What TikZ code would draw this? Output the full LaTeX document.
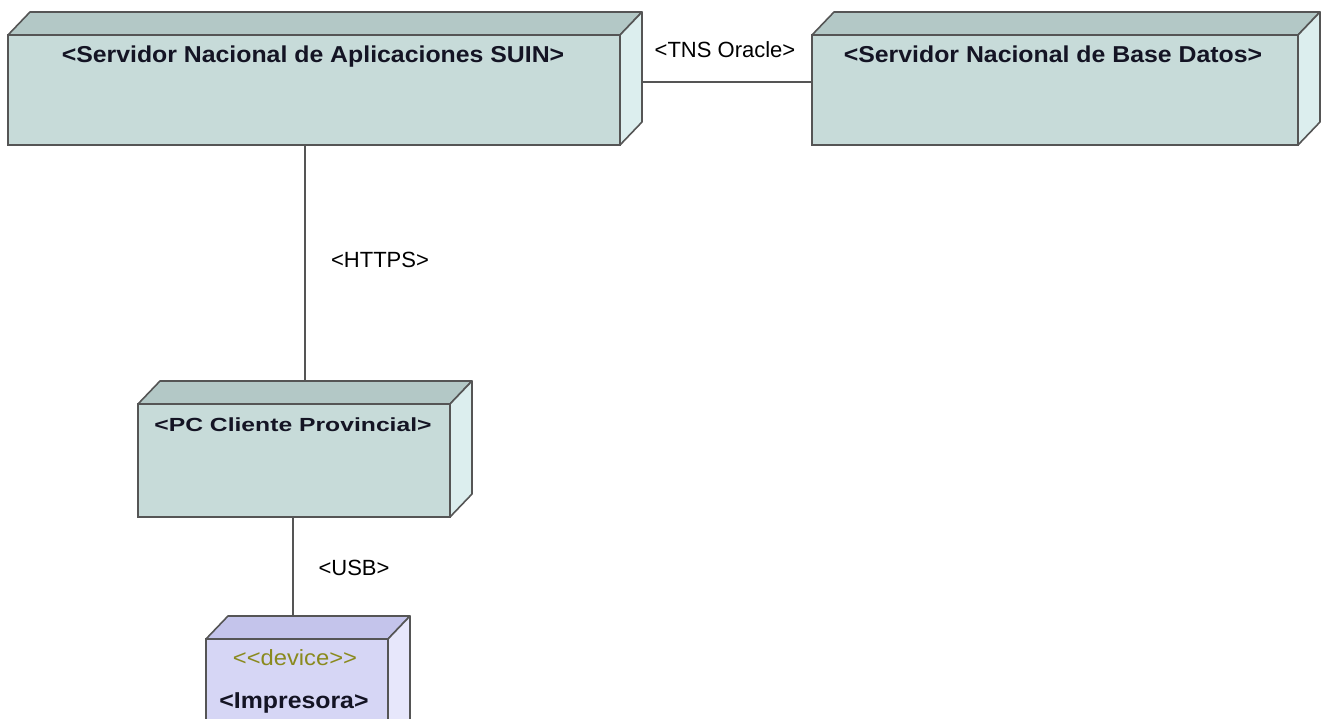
\documentclass[tikz,border=0pt]{standalone}
\usepackage{fontspec}
\setmainfont{Liberation Sans}
\newfontfamily\titlefont[FakeStretch=1.08]{Liberation Sans}
\newfontfamily\widefont[FakeStretch=1.3]{Liberation Sans}
\usetikzlibrary{calc}
\definecolor{edgec}{HTML}{555555}
\definecolor{frontc}{HTML}{C7DBD9}
\definecolor{topc}{HTML}{B3C8C6}
\definecolor{sidec}{HTML}{DCEEEE}
\definecolor{dfrontc}{HTML}{D6D6F5}
\definecolor{dtopc}{HTML}{C4C4EB}
\definecolor{dsidec}{HTML}{E7E7FB}
\definecolor{olivec}{HTML}{8A8A1E}
\definecolor{titlec}{HTML}{141424}
\pgfdeclarelayer{bg}
\pgfdeclarelayer{conn}
\pgfsetlayers{bg,conn,main}
\tikzset{
  box/.style={draw=edgec, fill=frontc, line width=1.6pt, inner sep=0pt, outer sep=0pt, anchor=north west},
  dbox/.style={box, fill=dfrontc},
  topface/.style={draw=edgec, fill=topc, line width=1.6pt, line join=round},
  sideface/.style={draw=edgec, fill=sidec, line width=1.6pt, line join=round},
  dtopface/.style={topface, fill=dtopc},
  dsideface/.style={sideface, fill=dsidec},
  title/.style={font=\titlefont\bfseries\fontsize{23}{26}\selectfont, text=titlec, inner sep=0pt, anchor=base},
  widetitle/.style={title, font=\widefont\bfseries\fontsize{19}{22}\selectfont},
  lbl/.style={font=\fontsize{22}{25}\selectfont, text=black, inner sep=0pt, anchor=base},
  stereo/.style={font=\titlefont\fontsize{22}{25}\selectfont, text=olivec, inner sep=0pt, anchor=base},
  link/.style={draw=edgec, line width=1.5pt}
}
\begin{document}
\begin{tikzpicture}[x=1pt,y=-1pt]
\begin{pgfonlayer}{bg}
\fill[white] (0,0) rectangle (1324,719);
\end{pgfonlayer}
\clip (0,0) rectangle (1324,719);
% front faces
\node[box, minimum width=612pt, minimum height=110pt] (srv) at (8,35) {};
\node[box, minimum width=486pt, minimum height=110pt] (db) at (812,35) {};
\node[box, minimum width=312pt, minimum height=113pt] (pc) at (138,404) {};
\node[dbox, minimum width=182pt, minimum height=140pt] (imp) at (206,639) {};
% 3D faces
\foreach \n/\t/\s in {srv/topface/sideface, db/topface/sideface, pc/topface/sideface, imp/dtopface/dsideface}{
  \draw[\t] (\n.north west) -- ++(22,-23) -- ($(\n.north east)+(22,-23)$) -- (\n.north east) -- cycle;
  \draw[\s] (\n.north east) -- ++(22,-23) -- ($(\n.south east)+(22,-23)$) -- (\n.south east) -- cycle;
}
% connectors
\begin{pgfonlayer}{conn}
\draw[link] ([yshift=8pt]srv.east) -- ([yshift=8pt]db.west);
\draw[link] ([xshift=-9pt]srv.south) -- ([xshift=11pt]pc.north);
\draw[link] ([xshift=-1pt]pc.south) -- ([xshift=-4pt]imp.north);
\end{pgfonlayer}
% texts
\node[title] (srvt) at (313,63) {<Servidor Nacional de Aplicaciones SUIN>};
\node[title] (dbt) at (1053,63) {<Servidor Nacional de Base Datos>};
\node[widetitle] (pct) at (293,431) {<PC Cliente Provincial>};
\node[stereo] (impst) at (295,665) {<{}<device>{}>};
\node[title] (impt) at (294,708) {<Impresora>};
\node[lbl] (tns) at (725,58) {<TNS Oracle>};
\node[lbl] (https) at (380,268) {<HTTPS>};
\node[lbl] (usb) at (354,575) {<USB>};
\end{tikzpicture}
\end{document}
